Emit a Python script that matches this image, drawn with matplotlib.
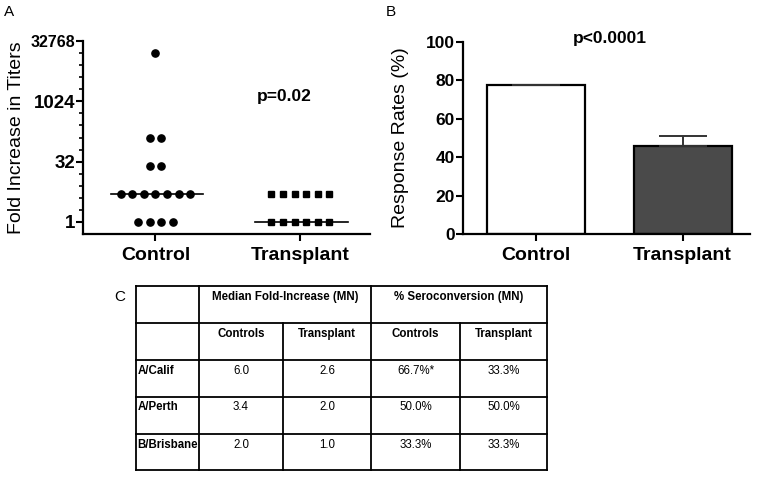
import matplotlib
matplotlib.use("Agg")
import matplotlib.pyplot as plt
from matplotlib.ticker import FixedLocator, FixedFormatter, NullFormatter
import numpy as np

plt.rcParams['font.family'] = ['Liberation Sans', 'DejaVu Sans']

# ---------------- data ----------------
groups = ["Control", "Transplant"]
# Panel A: fold increase values (rows of the scatter)
control_values = [16384, 128, 128, 25, 25, 5, 5, 5, 5, 5, 5, 5, 1, 1, 1, 1]
transplant_values = [5, 5, 5, 5, 5, 5, 1, 1, 1, 1, 1, 1]
medians = [5, 1]
a_yticks = [1, 32, 1024, 32768]
a_ptext = "p=0.02"

# Panel B: response rates
rates = [77.4, 46.0]
rate_err = [0.0, 5.0]
b_yticks = [0, 20, 40, 60, 80, 100]
b_ptext = "p<0.0001"

# Panel C: table
header_groups = ["Median Fold-Increase (MN)", "% Seroconversion (MN)"]
sub_headers = ["Controls", "Transplant", "Controls", "Transplant"]
strains = ["A/Calif", "A/Perth", "B/Brisbane"]
fold_controls = ["6.0", "3.4", "2.0"]
fold_transplant = ["2.6", "2.0", "1.0"]
sero_controls = ["66.7%*", "50.0%", "33.3%"]
sero_transplant = ["33.3%", "50.0%", "33.3%"]

W, H = 762, 478
fig = plt.figure(figsize=(W / 100, H / 100), dpi=100)


def fbox(x0, y0, x1, y1):
    return [x0 / W, 1 - y1 / H, (x1 - x0) / W, (y1 - y0) / H]


def style_axes(ax):
    for s in ["top", "right"]:
        ax.spines[s].set_visible(False)
    for s in ["left", "bottom"]:
        ax.spines[s].set_linewidth(1.6)
    ax.tick_params(axis="both", which="major", length=5, width=1.5)
    ax.tick_params(axis="y", pad=0.8)
    ax.tick_params(axis="x", labelsize=14, pad=4)
    for lab in ax.get_yticklabels() + ax.get_xticklabels():
        lab.set_fontweight("bold")


# ---------------- Panel A ----------------
axA = fig.add_axes(fbox(83, 41, 370, 234))
axA.set_yscale("log", base=2)
axA.set_ylim(0.5, 32768)
axA.set_xlim(-0.5, 1.48)
spacing = 0.08
for gi, (vals, marker) in enumerate([(control_values, "o"), (transplant_values, "s")]):
    uniq = sorted(set(vals))
    for u in uniq:
        n = vals.count(u)
        xs = gi + (np.arange(n) - (n - 1) / 2) * spacing
        axA.plot(xs, [u] * n, linestyle="none", marker=marker, color="black",
                 markersize=5.2 if marker == "o" else 5.0, zorder=3)
    axA.plot([gi - 0.31, gi + 0.33], [medians[gi]] * 2, color="black", lw=1.2, zorder=2)
axA.yaxis.set_major_locator(FixedLocator(a_yticks))
axA.yaxis.set_major_formatter(FixedFormatter([str(t) for t in a_yticks]))
axA.yaxis.set_minor_locator(FixedLocator([2 ** k for k in range(0, 16)]))
axA.yaxis.set_minor_formatter(NullFormatter())
axA.tick_params(axis="y", which="minor", length=3, width=1.2)
axA.set_xticks([0, 1])
axA.set_xticklabels(groups)
axA.set_ylabel("Fold Increase in Titers", fontsize=14, labelpad=3.5)
style_axes(axA)
for lab, t in zip(axA.get_yticklabels(), a_yticks):
    lab.set_fontsize(11.5 if t >= 10000 else 13.5)
axA.text(0.89, 1024 * 1.3, a_ptext, ha="center", va="center", fontsize=12.5,
         fontweight="bold")

# ---------------- Panel B ----------------
axB = fig.add_axes(fbox(463, 41.7, 750, 234))
axB.set_ylim(0, 100)
axB.set_xlim(-0.5, 1.46)
axB.bar([0, 1], rates, width=0.67, color=["white", "#4a4a4a"], edgecolor="black",
        linewidth=1.6, zorder=2)
axB.errorbar([0, 1], rates, yerr=[[0, 0], rate_err], fmt="none", ecolor="#333333",
             elinewidth=1.4, capsize=17, capthick=1.4, zorder=3)
axB.set_yticks(b_yticks)
axB.set_xticks([0, 1])
axB.set_xticklabels(groups)
axB.set_ylabel("Response Rates (%)", fontsize=14, labelpad=12)
style_axes(axB)
axB.tick_params(axis="y", labelsize=12.5)
axB.text(0.5, 101.5, b_ptext, ha="center", va="center", fontsize=12.5,
         fontweight="bold")

# panel letters
fig.text(4 / W, 1 - 12 / H, "A", fontsize=11, va="center", ha="left")
fig.text(386 / W, 1 - 12 / H, "B", fontsize=11, va="center", ha="left")
fig.text(114 / W, 1 - 297 / H, "C", fontsize=11, va="center", ha="left")

# ---------------- Panel C (table) ----------------
axC = fig.add_axes([0, 0, 1, 1], zorder=-1)
axC.set_xlim(0, W)
axC.set_ylim(H, 0)
axC.axis("off")
xl = [136, 199, 283, 371, 460, 547]
yl = [286, 323, 359.5, 396.5, 433.5, 470]
lw = 1.3
for y in yl:
    axC.plot([xl[0], xl[-1]], [y, y], color="black", lw=lw)
for i, x in enumerate(xl):
    if i in (2, 4):
        axC.plot([x, x], [yl[1], yl[-1]], color="black", lw=lw)
    else:
        axC.plot([x, x], [yl[0], yl[-1]], color="black", lw=lw)
fs = 8.3
pad_top = 11
axC.text((xl[1] + xl[3]) / 2, yl[0] + pad_top, header_groups[0], ha="center",
         va="center", fontsize=fs, fontweight="bold")
axC.text((xl[3] + xl[5]) / 2, yl[0] + pad_top, header_groups[1], ha="center",
         va="center", fontsize=fs, fontweight="bold")
for j, h in enumerate(sub_headers):
    axC.text((xl[j + 1] + xl[j + 2]) / 2, yl[1] + pad_top, h, ha="center",
             va="center", fontsize=fs, fontweight="bold")
cols = [fold_controls, fold_transplant, sero_controls, sero_transplant]
for r, strain in enumerate(strains):
    yy = yl[r + 2] + pad_top
    axC.text(xl[0] + 1.5, yy, strain, ha="left", va="center", fontsize=fs,
             fontweight="bold")
    for j, col in enumerate(cols):
        axC.text((xl[j + 1] + xl[j + 2]) / 2, yy, col[r], ha="center",
                 va="center", fontsize=fs)

fig.savefig("out.png", dpi=100)
